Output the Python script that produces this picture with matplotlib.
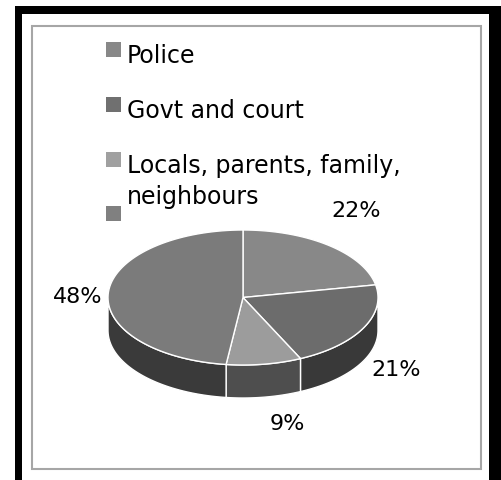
import numpy as np
import matplotlib.pyplot as plt
from matplotlib.patches import Polygon, Rectangle

labels = ['Police', 'Govt and court', 'Locals, parents, family,\nneighbours', '']
values = [22, 21, 9, 48]
pct_labels = ['22%', '21%', '9%', '48%']
top_colors = ['#888888', '#6c6c6c', '#9c9c9c', '#7b7b7b']
side_colors = ['#3e3e3e', '#393939', '#4e4e4e', '#3a3a3a']
legend_colors = ['#888888', '#707070', '#a0a0a0', '#808080']

plt.rcParams['font.family'] = ['DejaVu Sans']

fig = plt.figure(figsize=(5.01, 4.81), dpi=100)
ax = fig.add_axes([0, 0, 1, 1])
ax.set_xlim(0, 501)
ax.set_ylim(481, 0)
ax.axis('off')

# frames
ax.add_patch(Rectangle((15, 7), 490, 480, facecolor='black', edgecolor='none'))
ax.add_patch(Rectangle((22, 15), 467, 470, facecolor='white', edgecolor='none'))
ax.add_patch(Rectangle((32, 27), 449, 443, facecolor='white', edgecolor='#a6a6a6', lw=1.5))

# 3d pie geometry (pixel units)
cx, cy, rx, ry, depth = 243, 298.5, 135, 67.5, 33


def arc(a0, a1, dy=0.0, n=80):
    t = np.radians(np.linspace(a0, a1, n))
    return np.column_stack([cx + rx * np.sin(t), cy - ry * np.cos(t) + dy])


bounds = np.concatenate([[0], np.cumsum(values)]) / np.sum(values) * 360

# side walls (front half only)
for i in range(len(values)):
    s0, s1 = max(bounds[i], 90), min(bounds[i + 1], 270)
    if s1 <= s0:
        continue
    pts = np.vstack([arc(s0, s1), arc(s1, s0, depth)])
    ax.add_patch(Polygon(pts, closed=True, facecolor=side_colors[i],
                         edgecolor='white', lw=1.0))

# top faces
for i in range(len(values)):
    pts = np.vstack([[cx, cy], arc(bounds[i], bounds[i + 1])])
    ax.add_patch(Polygon(pts, closed=True, facecolor=top_colors[i],
                         edgecolor='white', lw=1.0))

# percentage labels
label_pos = [(356, 211), (396, 370), (287, 424), (78, 297)]
for txt, (x, y) in zip(pct_labels, label_pos):
    ax.text(x, y, txt, fontsize=16, ha='center', va='center', color='black')

# legend (one text per line so wrapped labels stay compact)
leg_y = [50, 105, 160, 214]
for lab, col, y in zip(labels, legend_colors, leg_y):
    ax.add_patch(Rectangle((106, y - 7.5), 15, 15, facecolor=col, edgecolor='none'))
    for k, line in enumerate(lab.split('\n')):
        if line:
            ax.text(127, y - 6 + 31 * k, line, fontsize=17, ha='left', va='top',
                    color='black')

fig.savefig('out.png', dpi=100)
